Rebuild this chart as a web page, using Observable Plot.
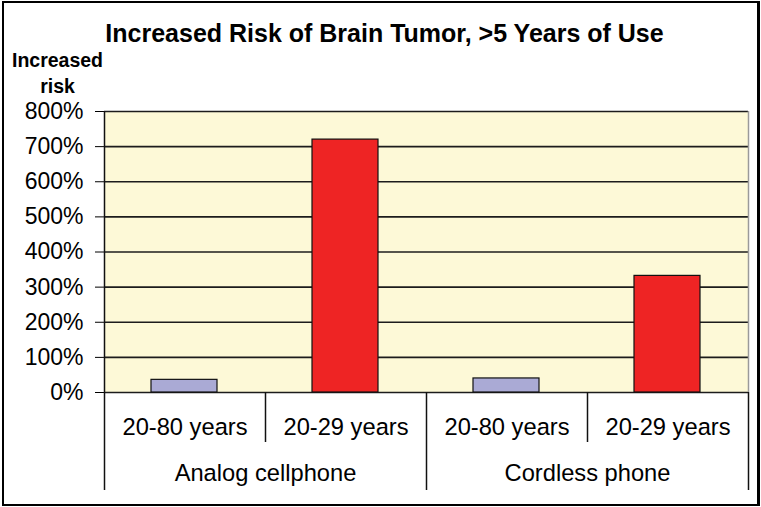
<!DOCTYPE html>
<html>
<head>
<meta charset="utf-8">
<script src="https://cdn.jsdelivr.net/npm/d3@7"></script>
<script src="https://cdn.jsdelivr.net/npm/@observablehq/plot@0.6"></script>
<style>
  html, body { margin: 0; padding: 0; background: #fff; }
  #wrap { position: relative; width: 761px; height: 507px; overflow: hidden; }
  #border { position: absolute; left: 2px; top: 1px; width: 753px; height: 501px; border: 2px solid #000; border-right-width: 3px; pointer-events: none; }
  svg { position: absolute; left: 0; top: 0; }
</style>
</head>
<body>
<div id="wrap"><div id="border"></div></div>
<script>
const title = "Increased Risk of Brain Tumor, >5 Years of Use";
const yLabel = "Increased\nrisk";
const groups = ["Analog cellphone", "Cordless phone"];
const ageRanges = ["20-80 years", "20-29 years"];
const analogValues = [36, 720];
const cordlessValues = [40, 332];
const yTicks = [0, 100, 200, 300, 400, 500, 600, 700, 800];
const barColors = ["#AAAAD5", "#EE2424"];

const series = [analogValues, cordlessValues];
const rows = groups.flatMap((g, gi) => ageRanges.map((a, ai) => ({
  group: g, age: a, slot: gi * ageRanges.length + ai, value: series[gi][ai], color: barColors[ai]
})));
const nSlots = rows.length;
const slotBounds = d3.range(nSlots + 1);
const groupBounds = slotBounds.filter(b => b % ageRanges.length === 0);
const innerBounds = slotBounds.filter(b => b % ageRanges.length !== 0);

const font = "'Liberation Sans', Arial, Helvetica, sans-serif";

const chart = Plot.plot({
  width: 761,
  height: 507,
  marginLeft: 104,
  marginRight: 13,
  marginTop: 111,
  marginBottom: 115,
  x: { type: "linear", domain: [0, nSlots], axis: null },
  y: { domain: [0, 800], ticks: yTicks, tickFormat: d => d + "%", tickSize: 9, tickPadding: 12, label: null },
  style: { fontFamily: font, fontSize: "23px", color: "#000", background: "transparent", overflow: "visible" },
  marks: [
    Plot.frame({ fill: "#FDF9D7", stroke: "none" }),
    Plot.ruleY(yTicks, { stroke: "#1c1c1c", strokeWidth: 1.6 }),
    Plot.rectY(rows, {
      x1: "slot", x2: d => d.slot + 1, y: "value",
      insetLeft: 47, insetRight: 48,
      fill: "color", stroke: "#111", strokeWidth: 1.2
    }),
    Plot.ruleX([nSlots], { stroke: "#9a9a9a", strokeWidth: 1.5 }),
    Plot.ruleX([0], { stroke: "#111", strokeWidth: 1.5 }),
    Plot.ruleX(groupBounds, { stroke: "#111", strokeWidth: 1.5, insetTop: 281, insetBottom: -98 }),
    Plot.ruleX(innerBounds, { stroke: "#111", strokeWidth: 1.5, insetTop: 281, insetBottom: -50 }),
    Plot.text(rows, { x: d => d.slot + 0.5, text: "age", frameAnchor: "bottom", lineAnchor: "middle", dy: 35, fontSize: 23.7, fill: "#000" }),
    Plot.text(groups, { x: (d, i) => i * ageRanges.length + ageRanges.length / 2, text: d => d, frameAnchor: "bottom", lineAnchor: "middle", dy: 81, fontSize: 23.7, fill: "#000" }),
    Plot.text([title], { text: d => d, frameAnchor: "top", lineAnchor: "middle", dx: -42, dy: -78, fontSize: 25, fontWeight: "bold", fill: "#000" }),
    Plot.text([yLabel], { text: d => d, frameAnchor: "top-left", dx: -47, dy: -19, textAnchor: "middle", lineAnchor: "bottom", lineHeight: 1.3, fontSize: 19.5, fontWeight: "bold", fill: "#000" })
  ]
});
document.getElementById("wrap").prepend(chart);
</script>
</body>
</html>
